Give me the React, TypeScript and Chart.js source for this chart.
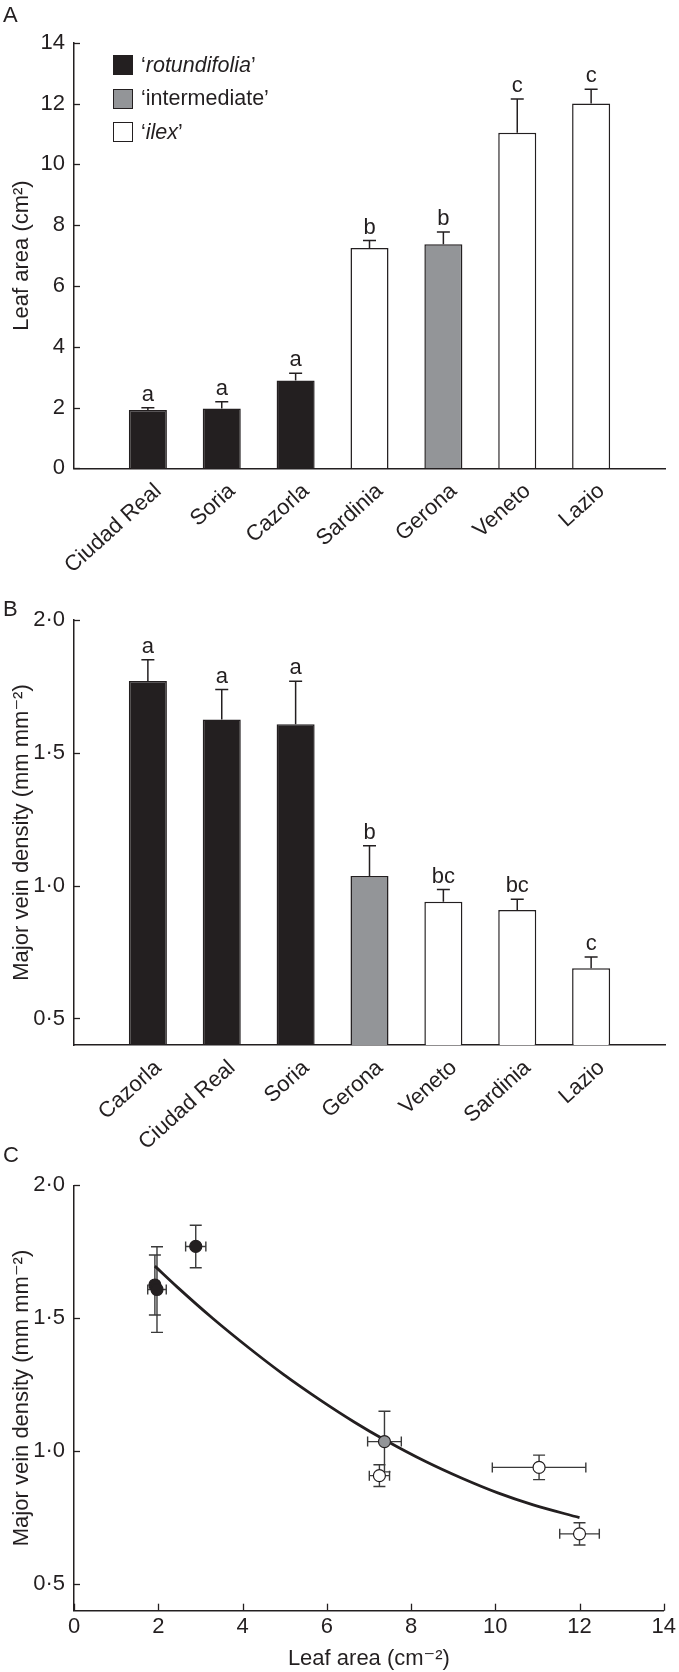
import React, { useEffect, useRef } from 'react';
import { Chart, registerables } from 'chart.js';

Chart.register(...registerables);

const FONT = "'Liberation Sans', Arial, Helvetica, 'DejaVu Sans', sans-serif";
const INK = '#231f20';
const ERR = '#3a3a3a';

// ---------- Panel A: leaf area ----------
const areaSites = ['Ciudad Real', 'Soria', 'Cazorla', 'Sardinia', 'Gerona', 'Veneto', 'Lazio'];
const areaGroups = ['rotundifolia', 'rotundifolia', 'rotundifolia', 'ilex', 'intermediate', 'ilex', 'ilex'];
const areaMeans = [1.92, 1.97, 2.89, 7.25, 7.37, 11.04, 12.0];
const areaErrors = [0.07, 0.22, 0.24, 0.24, 0.4, 1.11, 0.47];
const areaLetters = ['a', 'a', 'a', 'b', 'b', 'c', 'c'];
const areaTicks = [0, 2, 4, 6, 8, 10, 12, 14];

// ---------- Panel B: major vein density ----------
const veinSites = ['Cazorla', 'Ciudad Real', 'Soria', 'Gerona', 'Veneto', 'Sardinia', 'Lazio'];
const veinGroups = ['rotundifolia', 'rotundifolia', 'rotundifolia', 'intermediate', 'ilex', 'ilex', 'ilex'];
const veinMeans = [1.77, 1.625, 1.608, 1.036, 0.939, 0.908, 0.689];
const veinErrors = [0.08, 0.113, 0.161, 0.114, 0.046, 0.041, 0.042];
const veinLetters = ['a', 'a', 'a', 'b', 'bc', 'bc', 'c'];
const veinTicks = [0.5, 1.0, 1.5, 2.0];
const veinTickLabels = ['0·5', '1·0', '1·5', '2·0'];

// ---------- Panel C: fitted curve ----------
const fitX = [1.92, 2.44, 3.29, 4.14, 4.98, 5.83, 6.67, 7.38, 8.36, 9.21, 10.06, 10.9, 12.0];
const fitY = [1.696, 1.619, 1.5, 1.39, 1.288, 1.194, 1.108, 1.042, 0.96, 0.898, 0.843, 0.798, 0.75];
const leafTicks = [0, 2, 4, 6, 8, 10, 12, 14];

const groupFill: Record<string, string> = {
  rotundifolia: '#231f20',
  intermediate: '#939598',
  ilex: '#ffffff',
};

const FS = 22;
const LABEL_FS = 22;
const tickFont = { family: FONT, size: FS };
const LABEL_ANGLE = (42 * Math.PI) / 180;

const barExtras = {
  id: 'barExtras',
  afterDatasetsDraw(chart: any, _args: any, opts: any) {
    const { ctx } = chart;
    const y = chart.scales.y;
    const meta = chart.getDatasetMeta(0);
    const data = chart.data.datasets[0].data;
    ctx.save();
    ctx.strokeStyle = INK;
    ctx.lineWidth = 1.5;
    ctx.fillStyle = INK;
    ctx.font = `${FS}px ${FONT}`;
    ctx.textAlign = 'center';
    ctx.textBaseline = 'alphabetic';
    meta.data.forEach((el: any, i: number) => {
      const v = data[i];
      if (v == null) return;
      const k = i - 1;
      const top = y.getPixelForValue(v + opts.errors[k]);
      ctx.beginPath();
      ctx.moveTo(el.x, el.y);
      ctx.lineTo(el.x, top);
      ctx.moveTo(el.x - 6.5, top);
      ctx.lineTo(el.x + 6.5, top);
      ctx.stroke();
      ctx.fillText(opts.letters[k], el.x, top - 7);
    });
    ctx.restore();
  },
};

// slanted category labels, right end anchored just right of / below each bar
const rotatedLabels = {
  id: 'rotatedLabels',
  afterDraw(chart: any) {
    const { ctx, chartArea } = chart;
    const x = chart.scales.x;
    const labels: string[] = chart.data.labels;
    ctx.save();
    ctx.fillStyle = INK;
    ctx.font = `${LABEL_FS}px ${FONT}`;
    ctx.textAlign = 'right';
    ctx.textBaseline = 'middle';
    labels.forEach((lab, i) => {
      if (!lab) return;
      const px = x.getPixelForValue(i);
      ctx.save();
      ctx.translate(px + 10.4, chartArea.bottom + 19.7);
      ctx.rotate(-LABEL_ANGLE);
      ctx.fillText(lab, 0, 0);
      ctx.restore();
    });
    ctx.restore();
  },
};

const inwardTicks = {
  id: 'inwardTicks',
  afterDraw(chart: any, _args: any, opts: any) {
    const { ctx, chartArea } = chart;
    ctx.save();
    ctx.strokeStyle = INK;
    ctx.lineWidth = 1.3;
    const y = chart.scales.y;
    y.ticks.forEach((t: any) => {
      const py = Math.round(y.getPixelForValue(t.value)) + 0.5;
      ctx.beginPath();
      ctx.moveTo(chartArea.left, py);
      ctx.lineTo(chartArea.left + 6, py);
      ctx.stroke();
    });
    if (opts && opts.xTicks) {
      const x = chart.scales.x;
      x.ticks.forEach((t: any) => {
        const px = Math.round(x.getPixelForValue(t.value)) + 0.5;
        ctx.beginPath();
        ctx.moveTo(px, chartArea.bottom);
        ctx.lineTo(px, chartArea.bottom - 7);
        ctx.stroke();
      });
    }
    ctx.restore();
  },
};

const xyErrorBars = {
  id: 'xyErrorBars',
  beforeDatasetsDraw(chart: any, _args: any, opts: any) {
    const { ctx } = chart;
    const xs = chart.scales.x;
    const ys = chart.scales.y;
    ctx.save();
    ctx.strokeStyle = ERR;
    ctx.lineWidth = 1.4;
    opts.points.forEach((p: any) => {
      const px = xs.getPixelForValue(p.x);
      const py = ys.getPixelForValue(p.y);
      const x0 = xs.getPixelForValue(p.x - p.xe);
      const x1 = xs.getPixelForValue(p.x + p.xe);
      const y0 = ys.getPixelForValue(p.y - p.ye);
      const y1 = ys.getPixelForValue(p.y + p.ye);
      ctx.beginPath();
      ctx.moveTo(x0, py); ctx.lineTo(x1, py);
      ctx.moveTo(x0, py - 5); ctx.lineTo(x0, py + 5);
      ctx.moveTo(x1, py - 5); ctx.lineTo(x1, py + 5);
      ctx.moveTo(px, y0); ctx.lineTo(px, y1);
      ctx.moveTo(px - 6, y0); ctx.lineTo(px + 6, y0);
      ctx.moveTo(px - 6, y1); ctx.lineTo(px + 6, y1);
      ctx.stroke();
    });
    ctx.restore();
  },
};

function yAxis(min: number, max: number, ticks: number[], labels: string[], title: string) {
  return {
    type: 'linear',
    min,
    max,
    grid: { display: false, drawTicks: false },
    border: { display: true, color: INK, width: 1.5 },
    afterBuildTicks: (s: any) => {
      s.ticks = ticks.map((value) => ({ value }));
    },
    ticks: {
      padding: 9,
      color: INK,
      font: tickFont,
      callback: (_v: any, i: number) => labels[i],
    },
    title: {
      display: true,
      text: title,
      color: INK,
      font: { family: FONT, size: FS },
      padding: { top: 8.5, bottom: 0 },
    },
    afterFit: (s: any) => {
      s.width = 74;
    },
  };
}

function barConfig(p: {
  sites: string[];
  groups: string[];
  means: number[];
  errors: number[];
  letters: string[];
  yMin: number;
  yMax: number;
  ticks: number[];
  tickLabels: string[];
  title: string;
  padTop: number;
  xHeight: number;
}) {
  const labels = ['', ...p.sites, ''];
  const data = [null, ...p.means, null];
  const colors = ['#ffffff', ...p.groups.map((g) => groupFill[g]), '#ffffff'];
  return {
    type: 'bar',
    data: {
      labels,
      datasets: [
        {
          data,
          backgroundColor: colors,
          borderColor: INK,
          borderWidth: 1.5,
          barPercentage: 0.515,
          categoryPercentage: 1,
        },
      ],
    },
    plugins: [barExtras, inwardTicks, rotatedLabels],
    options: {
      animation: false,
      responsive: false,
      events: [],
      layout: { padding: { top: p.padTop, right: 14, left: 0, bottom: 0 } },
      plugins: {
        legend: { display: false },
        tooltip: { enabled: false },
        barExtras: { errors: p.errors, letters: p.letters },
        inwardTicks: { xTicks: false },
      },
      scales: {
        x: {
          type: 'category',
          offset: false,
          grid: { display: false, drawTicks: false },
          border: { display: true, color: INK, width: 1.5 },
          ticks: { display: false, autoSkip: false },
          afterFit: (s: any) => {
            s.height = p.xHeight;
          },
        },
        y: yAxis(p.yMin, p.yMax, p.ticks, p.tickLabels, p.title),
      },
    },
  };
}

function scatterConfig() {
  const points = areaSites.map((site, i) => {
    const j = veinSites.indexOf(site);
    return {
      x: areaMeans[i],
      y: veinMeans[j],
      xe: areaErrors[i],
      ye: veinErrors[j],
      group: areaGroups[i],
    };
  });
  return {
    type: 'scatter',
    data: {
      datasets: [
        {
          type: 'scatter',
          data: points.map((p) => ({ x: p.x, y: p.y })),
          pointRadius: 6,
          pointBackgroundColor: points.map((p) => groupFill[p.group]),
          pointBorderColor: INK,
          pointBorderWidth: 1.2,
          order: 0,
        },
        {
          type: 'line',
          data: fitX.map((x, i) => ({ x, y: fitY[i] })),
          borderColor: INK,
          borderWidth: 2.8,
          pointRadius: 0,
          fill: false,
          cubicInterpolationMode: 'monotone',
          order: 1,
        },
      ],
    },
    plugins: [xyErrorBars, inwardTicks],
    options: {
      animation: false,
      responsive: false,
      events: [],
      layout: { padding: { top: 40.3, right: 14, left: 0, bottom: 0 } },
      plugins: {
        legend: { display: false },
        tooltip: { enabled: false },
        xyErrorBars: { points },
        inwardTicks: { xTicks: true },
      },
      scales: {
        x: {
          type: 'linear',
          min: 0,
          max: 14,
          grid: { display: false, drawTicks: false },
          border: { display: true, color: INK, width: 1.5 },
          afterBuildTicks: (s: any) => {
            s.ticks = leafTicks.map((value) => ({ value }));
          },
          ticks: {
            padding: 3,
            color: INK,
            font: tickFont,
            callback: (v: any) => String(v),
          },
          title: {
            display: true,
            text: 'Leaf area (cm⁻²)',
            color: INK,
            font: { family: FONT, size: FS },
            padding: { top: 0, bottom: 0 },
          },
          afterFit: (s: any) => {
            s.height = 61.3;
          },
        },
        y: yAxis(0.4, 2.0, veinTicks, veinTickLabels, 'Major vein density (mm mm⁻²)'),
      },
    },
  };
}

const legendItems = [
  { group: 'rotundifolia', name: 'rotundifolia', italic: true },
  { group: 'intermediate', name: 'intermediate', italic: false },
  { group: 'ilex', name: 'ilex', italic: true },
];

export default function App() {
  const refA = useRef<HTMLCanvasElement>(null);
  const refB = useRef<HTMLCanvasElement>(null);
  const refC = useRef<HTMLCanvasElement>(null);

  useEffect(() => {
    const a = new Chart(
      refA.current as HTMLCanvasElement,
      barConfig({
        sites: areaSites,
        groups: areaGroups,
        means: areaMeans,
        errors: areaErrors,
        letters: areaLetters,
        yMin: 0,
        yMax: 14,
        ticks: areaTicks,
        tickLabels: areaTicks.map((t) => String(t)),
        title: 'Leaf area (cm²)',
        padTop: 42.7,
        xHeight: 600 - 468.3,
      }) as any
    );
    const b = new Chart(
      refB.current as HTMLCanvasElement,
      barConfig({
        sites: veinSites,
        groups: veinGroups,
        means: veinMeans,
        errors: veinErrors,
        letters: veinLetters,
        yMin: 0.4,
        yMax: 2.0,
        ticks: veinTicks,
        tickLabels: veinTickLabels,
        title: 'Major vein density (mm mm⁻²)',
        padTop: 35,
        xHeight: 575 - 460,
      }) as any
    );
    const c = new Chart(refC.current as HTMLCanvasElement, scatterConfig() as any);
    return () => {
      a.destroy();
      b.destroy();
      c.destroy();
    };
  }, []);

  const letterStyle: React.CSSProperties = {
    position: 'absolute',
    left: 3,
    fontSize: 22,
    lineHeight: '22px',
  };

  return (
    <div
      style={{
        position: 'absolute',
        left: 0,
        top: 0,
        width: 679,
        height: 1672,
        fontFamily: FONT,
        color: INK,
        background: '#ffffff',
      }}
    >
      <canvas ref={refA} width={679} height={600} style={{ position: 'absolute', left: 0, top: 0 }} />
      <canvas ref={refB} width={679} height={575} style={{ position: 'absolute', left: 0, top: 585 }} />
      <canvas ref={refC} width={679} height={527} style={{ position: 'absolute', left: 0, top: 1145 }} />
      <div style={{ ...letterStyle, top: 4 }}>A</div>
      <div style={{ ...letterStyle, top: 598 }}>B</div>
      <div style={{ ...letterStyle, top: 1144 }}>C</div>
      {legendItems.map((it, i) => (
        <div
          key={it.group}
          style={{
            position: 'absolute',
            left: 113,
            top: 55 + i * 33.7,
            height: 20,
            display: 'flex',
            alignItems: 'center',
            fontSize: 21.5,
            whiteSpace: 'nowrap',
          }}
        >
          <span
            style={{
              display: 'inline-block',
              width: 18,
              height: 18,
              border: `1px solid ${INK}`,
              background: groupFill[it.group],
              marginRight: 8,
            }}
          />
          <span>
            ‘{it.italic ? <i>{it.name}</i> : it.name}’
          </span>
        </div>
      ))}
    </div>
  );
}
